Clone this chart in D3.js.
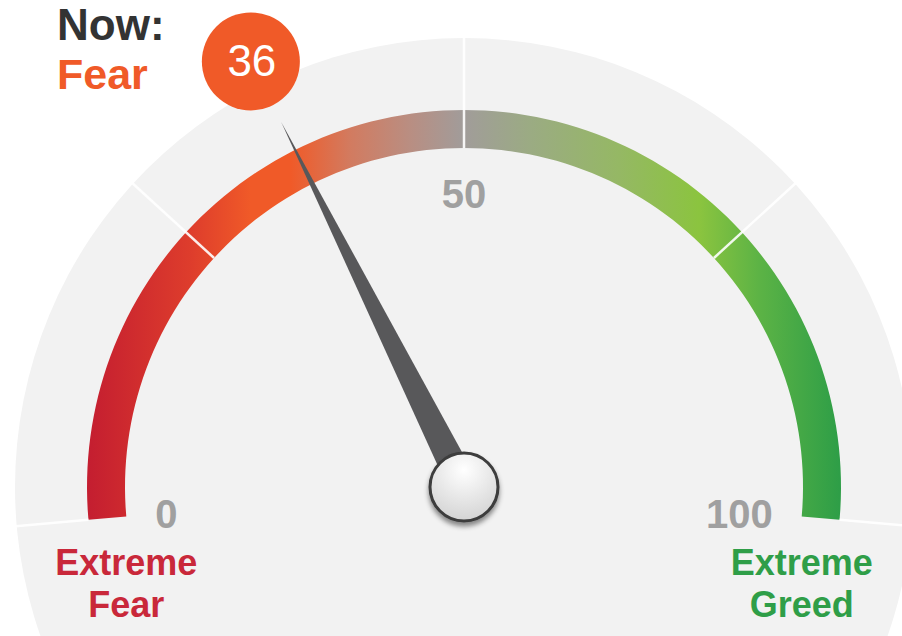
<!DOCTYPE html>
<html>
<head>
<meta charset="utf-8">
<script src="https://cdn.jsdelivr.net/npm/d3@7"></script>
<style>
  html, body { margin: 0; padding: 0; background: #ffffff; }
  svg { display: block; }
  text { font-family: "Liberation Sans", Arial, Helvetica, sans-serif; }
</style>
</head>
<body>
<div id="chart"></div>
<script>
// ---- data ----
const gaugeValue = [36];
const nowLabel = ["Now:"];
const ratingLabel = ["Fear"];
const tickValues = [0, 50, 100];
const tickLabels = ["0", "50", "100"];
const dividerValues = [0, 25, 50, 75, 100];
const extremeValues = [0, 100];
const extremeLines = [["Extreme", "Fear"], ["Extreme", "Greed"]];

// ---- layout ----
const W = 902, H = 636;
const cx = 464, cy = 487;
const rDisk = 449, rOut = 377, rIn = 339;
const rNeedle = 408, rBubble = 476, rBubbleSize = 49;

const svg = d3.select("#chart").append("svg")
  .attr("width", W).attr("height", H);

const deg = d3.scaleLinear().domain([0, 100]).range([-95, 95]);
const ang = v => deg(v) * Math.PI / 180;
const pt = (v, r) => [cx + r * Math.sin(ang(v)), cy - r * Math.cos(ang(v))];

const defs = svg.append("defs");
// horizontal gradient across the arc (in absolute page coordinates)
const gradStops = [
  [0.00, "#c41e30"], [0.137, "#de3d2c"], [0.216, "#f05a28"], [0.269, "#f05a28"],
  [0.349, "#d27b60"], [0.428, "#b98e82"], [0.499, "#a19c9a"], [0.588, "#9bab83"],
  [0.707, "#95b864"], [0.813, "#8bc43f"], [0.893, "#5cb345"], [1.00, "#2e9e47"]
];
const lg = defs.append("linearGradient").attr("id", "arcGrad")
  .attr("gradientUnits", "userSpaceOnUse")
  .attr("x1", pt(0, rOut)[0]).attr("x2", pt(100, rOut)[0])
  .attr("y1", 0).attr("y2", 0);
gradStops.forEach(s => lg.append("stop").attr("offset", s[0]).attr("stop-color", s[1]));

const rg = defs.append("radialGradient").attr("id", "knobGrad")
  .attr("cx", "50%").attr("cy", "25%").attr("r", "75%");
rg.append("stop").attr("offset", 0).attr("stop-color", "#ffffff");
rg.append("stop").attr("offset", 1).attr("stop-color", "#d4d4d4");

const f = defs.append("filter").attr("id", "shadow")
  .attr("x", "-50%").attr("y", "-50%").attr("width", "200%").attr("height", "200%");
f.append("feDropShadow").attr("dx", 0).attr("dy", 4).attr("stdDeviation", 2.5)
  .attr("flood-color", "#000").attr("flood-opacity", 0.45);

const g = svg.append("g");

// background disk
g.append("circle").attr("cx", cx).attr("cy", cy).attr("r", rDisk).attr("fill", "#f2f2f2");

// colored arc: built in absolute coordinates so the gradient maps to page x
const arc = d3.arc().innerRadius(rIn).outerRadius(rOut)
  .startAngle(ang(0)).endAngle(ang(100));
const arcPath = d3.path();
const arcCtx = d3.arc().innerRadius(rIn).outerRadius(rOut)
  .startAngle(ang(0)).endAngle(ang(100)).context(arcPath);
arcCtx();
g.append("g").attr("transform", `translate(${cx},${cy})`)
  .append("path")
  .attr("d", arc())
  .attr("fill", "none");
// draw the filled arc with gradient in page coordinates
const ring = svg.append("path")
  .attr("d", (() => {
    const p = d3.path();
    const steps = 120;
    const pts = [];
    for (let i = 0; i <= steps; i++) pts.push(pt(i * 100 / steps, rOut));
    for (let i = steps; i >= 0; i--) pts.push(pt(i * 100 / steps, rIn));
    return d3.line()(pts) + "Z";
  })())
  .attr("fill", "url(#arcGrad)");

// dividers
svg.selectAll("line.div").data(dividerValues).join("line")
  .attr("class", "div")
  .attr("x1", d => pt(d, (d === 0 || d === 100) ? rOut : rIn)[0])
  .attr("y1", d => pt(d, (d === 0 || d === 100) ? rOut : rIn)[1])
  .attr("x2", d => pt(d, rDisk + 4)[0])
  .attr("y2", d => pt(d, rDisk + 4)[1])
  .attr("stroke", "#ffffff").attr("stroke-width", 2.5).attr("stroke-opacity", 0.9);

// tick labels
svg.selectAll("text.tick").data(tickValues).join("text")
  .attr("class", "tick")
  .attr("x", d => pt(d, 310)[0])
  .attr("y", d => pt(d, 310)[1] + (d === 50 ? 31 : 14))
  .attr("text-anchor", d => d < 50 ? "start" : (d > 50 ? "end" : "middle"))
  .attr("font-size", 40).attr("font-weight", "bold").attr("fill", "#a0a0a0")
  .text((d, i) => tickLabels[i]);

// extreme labels
const extremeColors = ["#c9283a", "#2f9e48"];
extremeValues.forEach((v, i) => {
  const x = pt(v, rIn)[0];
  extremeLines[i].forEach((line, j) => {
    svg.append("text").attr("x", x).attr("y", 575 + j * 42)
      .attr("text-anchor", "middle").attr("font-size", 36).attr("font-weight", "bold")
      .attr("fill", extremeColors[i]).text(line);
  });
});

// needle
const v = gaugeValue[0];
const a = ang(v);
const half = 15;
const tip = pt(v, rNeedle);
const bl = [cx - half * Math.cos(a), cy - half * Math.sin(a)];
const br = [cx + half * Math.cos(a), cy + half * Math.sin(a)];
svg.append("path").attr("d", d3.line()([bl, tip, br]) + "Z").attr("fill", "#58585a");

// knob
svg.append("circle").attr("cx", cx).attr("cy", cy).attr("r", 34)
  .attr("fill", "url(#knobGrad)").attr("stroke", "#3c3c3c").attr("stroke-width", 3)
  .attr("filter", "url(#shadow)");

// value bubble
const bp = pt(v, rBubble);
svg.append("circle").attr("cx", bp[0]).attr("cy", bp[1]).attr("r", rBubbleSize).attr("fill", "#f05a28");
svg.append("text").attr("x", bp[0] + 1).attr("y", bp[1] + 15)
  .attr("text-anchor", "middle").attr("font-size", 44).attr("fill", "#ffffff")
  .text(v);

// Now: / rating
svg.append("text").attr("x", 57).attr("y", 40).attr("font-size", 44).attr("font-weight", "bold")
  .attr("fill", "#333333").text(nowLabel[0]);
svg.append("text").attr("x", 57).attr("y", 89).attr("font-size", 43).attr("font-weight", "bold")
  .attr("fill", "#f05a28").text(ratingLabel[0]);
</script>
</body>
</html>
